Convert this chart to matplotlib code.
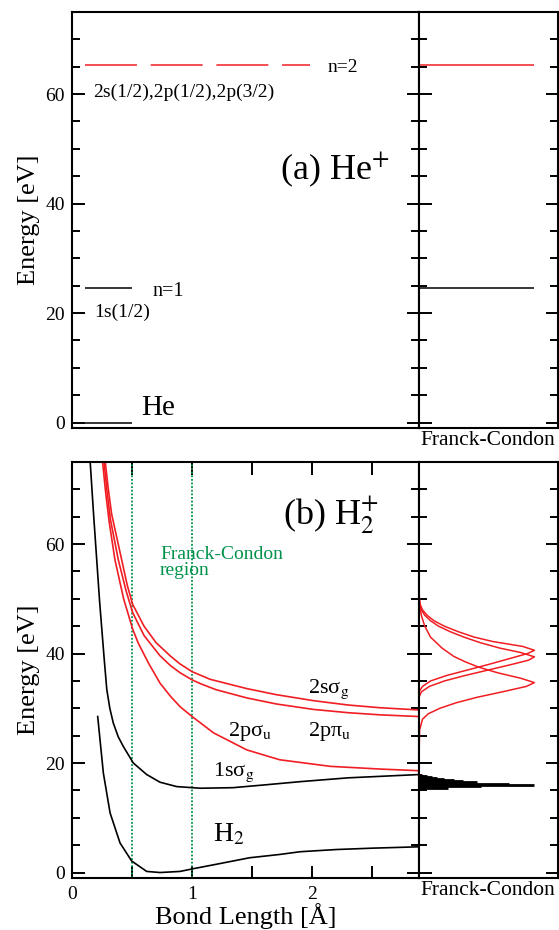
import numpy as np
import matplotlib
matplotlib.use("Agg")
import matplotlib.pyplot as plt
from matplotlib.ticker import MultipleLocator

plt.rcParams["font.family"] = ["Liberation Serif", "DejaVu Serif"]
plt.rcParams["mathtext.fontset"] = "stix"

# ---- (a) He+ levels [eV] ----
he_levels = {"He": 0.0, "n=1": 24.6, "n=2": 65.4}

# ---- (b) H2 / H2+ potential curves: bond length [A], energy [eV] ----
r_h2 = [0.214, 0.261, 0.317, 0.40, 0.497, 0.622, 0.733, 0.90, 1.01, 1.2, 1.48, 1.73, 1.9, 2.2, 2.5, 2.89]
e_h2 = [28.5, 18.2, 10.9, 5.4, 2.1, 0.2, 0.0, 0.2, 0.7, 1.5, 2.7, 3.3, 3.8, 4.2, 4.45, 4.7]

r_1sg = [0.150, 0.178, 0.206, 0.230, 0.250, 0.270, 0.290, 0.315, 0.344, 0.385, 0.428, 0.511,
         0.622, 0.733, 0.872, 1.07, 1.34, 1.6, 1.9, 2.3, 2.89]
e_1sg = [75.5, 66.0, 57.1, 49.5, 44.0, 38.5, 33.4, 30.0, 27.3, 24.8, 23.0, 20.0,
         17.9, 16.5, 15.7, 15.4, 15.5, 16.0, 16.6, 17.3, 17.9]

r_2pu = [0.250, 0.280, 0.310, 0.358, 0.43, 0.505, 0.55, 0.636, 0.733, 0.82, 0.90, 1.0,
         1.18, 1.456, 1.73, 2.15, 2.57, 2.89]
e_2pu = [76.0, 69.5, 64.0, 57.1, 50.0, 44.5, 42.0, 38.3, 34.6, 32.2, 30.3, 28.5,
         25.5, 22.4, 20.6, 19.4, 18.9, 18.6]

r_2ppi = [0.262, 0.29, 0.32, 0.386, 0.45, 0.505, 0.60, 0.733, 0.82, 0.90, 1.0, 1.07,
          1.2, 1.456, 1.7, 2.01, 2.3, 2.57, 2.89]
e_2ppi = [76.0, 70.0, 64.5, 57.1, 51.5, 47.5, 43.3, 39.6, 37.8, 36.5, 35.2, 34.5,
          33.4, 31.9, 30.8, 29.8, 29.2, 28.8, 28.5]

r_2sg = [0.272, 0.30, 0.33, 0.414, 0.46, 0.505, 0.60, 0.70, 0.817, 0.90, 1.0, 1.15,
         1.456, 1.7, 2.01, 2.3, 2.57, 2.89]
e_2sg = [76.0, 70.5, 65.5, 57.1, 52.5, 49.0, 45.0, 42.0, 39.6, 38.1, 36.7, 35.3,
         33.6, 32.5, 31.4, 30.6, 30.1, 29.7]

fc_region = [0.5, 1.0]

# ---- Franck-Condon distributions (energy [eV], relative intensity) ----
fc_2sg_e = [75, 52, 50, 49, 48, 47, 46, 45, 44, 43, 42.2, 41.3, 40.6, 40.0, 39.0, 38.0,
            37.0, 36.0, 35.0, 34.0, 33.0, 20]
fc_2sg_v = [0, 0, 0.003, 0.01, 0.03, 0.07, 0.13, 0.22, 0.34, 0.48, 0.64, 0.9, 1.0, 0.94,
            0.77, 0.6, 0.42, 0.24, 0.1, 0.03, 0, 0]

fc_2ppi_e = [75, 51, 49, 48, 47, 46, 45, 44, 43, 42, 41, 40.2, 39.4, 38.8, 38.0, 37.0,
             36.0, 35.0, 34.0, 33.0, 32.0, 20]
fc_2ppi_v = [0, 0, 0.005, 0.02, 0.05, 0.1, 0.17, 0.27, 0.39, 0.53, 0.7, 0.88, 1.0, 0.95,
             0.8, 0.6, 0.4, 0.22, 0.09, 0.02, 0, 0]

fc_2pu_e = [75, 52, 49, 47, 45, 43, 41, 39.5, 38.5, 37.5, 36.5, 35.5, 34.7, 34.0, 33.0,
            32.0, 31.0, 30.0, 29.0, 28.0, 26, 20]
fc_2pu_v = [0, 0, 0.005, 0.02, 0.05, 0.1, 0.2, 0.3, 0.4, 0.52, 0.68, 0.88, 1.0, 0.93,
            0.72, 0.5, 0.32, 0.18, 0.08, 0.03, 0.005, 0]

fc_1sg_e = [15.45, 15.72, 15.98, 16.23, 16.47, 16.69, 16.90, 17.09, 17.27, 17.43, 17.57, 17.70, 17.81, 17.90]
fc_1sg_v = [0.25, 0.54, 1.0, 0.78, 0.5, 0.38, 0.3, 0.22, 0.16, 0.11, 0.07, 0.045, 0.025, 0.01]

RED = "#f01e23"
GREEN = "#00914a"
W, H = 559, 930


def frame(ax, main=True):
    for s in ax.spines.values():
        s.set_linewidth(1.5)
    ax.set_ylim(-1, 75)
    ax.yaxis.set_major_locator(MultipleLocator(20))
    ax.yaxis.set_minor_locator(MultipleLocator(5))
    ax.tick_params(axis="y", which="both", direction="in", left=True, right=True,
                   width=1.4, labelsize=14, pad=5)
    ax.tick_params(axis="y", which="major", length=9)
    ax.tick_params(axis="y", which="minor", length=5.5)
    if not main:
        ax.tick_params(axis="y", labelleft=False)
        ax.set_xticks([])
        ax.set_xlim(0, 1.2)
        ax.set_xlabel("Franck-Condon", fontsize=15.5, labelpad=2)


fig = plt.figure(figsize=(W / 100, H / 100), dpi=100)
x0, x1, x2 = 72 / W, 419 / W, 557.5 / W

ax_a = fig.add_axes([x0, (H - 428) / H, x1 - x0, 416 / H])
ax_af = fig.add_axes([x1, (H - 428) / H, x2 - x1, 416 / H])
ax_b = fig.add_axes([x0, (H - 878) / H, x1 - x0, 416 / H])
ax_bf = fig.add_axes([x1, (H - 878) / H, x2 - x1, 416 / H])

# ---------- (a) He+ ----------
frame(ax_a)
ax_a.set_xlim(0, 2.89)
ax_a.set_xticks([])
ax_a.hlines(he_levels["He"], 0.11, 0.5, color="k", lw=1.1)
ax_a.hlines(he_levels["n=1"], 0.11, 0.5, color="k", lw=1.1)
ax_a.plot([0.11, 1.98], [he_levels["n=2"]] * 2, color=RED, lw=1.1, dashes=(34, 9))
ax_a.text(0.175, 59.4, "2s(1/2),2p(1/2),2p(3/2)", fontsize=14, va="baseline")
ax_a.text(2.125, 64.1, "n=2", fontsize=14, va="baseline")
ax_a.text(0.667, 23.2, "n=1", fontsize=14.5, va="baseline")
ax_a.text(0.183, 19.2, "1s(1/2)", fontsize=14, va="baseline")
ax_a.text(0.575, 1.3, "He", fontsize=21, va="baseline")
ax_a.text(1.733, 44.3, r"(a) He$^{+}$", fontsize=26, va="baseline")
ax_a.set_ylabel("Energy [eV]", fontsize=19, labelpad=4)

frame(ax_af, main=False)
ax_af.hlines(he_levels["n=2"], 0, 1.0, color=RED, lw=1.1)
ax_af.hlines(he_levels["n=1"], 0, 1.0, color="k", lw=1.1)

# ---------- (b) H2+ ----------
frame(ax_b)
ax_b.set_xlim(0, 2.89)
ax_b.xaxis.set_major_locator(MultipleLocator(1))
ax_b.xaxis.set_minor_locator(MultipleLocator(0.5))
ax_b.tick_params(axis="x", which="both", direction="in", top=True, bottom=True,
                 width=1.4, labelsize=14, pad=6)
ax_b.tick_params(axis="x", which="major", length=9)
ax_b.tick_params(axis="x", which="minor", length=9)

for xr in fc_region:
    ax_b.axvline(xr, color=GREEN, lw=1.3, ls=(0, (1, 1.0)))
ax_b.plot(r_h2, e_h2, color="k", lw=1.2)
ax_b.plot(r_1sg, e_1sg, color="k", lw=1.2)
ax_b.plot(r_2pu, e_2pu, color=RED, lw=1.2)
ax_b.plot(r_2ppi, e_2ppi, color=RED, lw=1.2)
ax_b.plot(r_2sg, e_2sg, color=RED, lw=1.2)

ax_b.text(0.733, 57.2, "Franck-Condon", color=GREEN, fontsize=14, va="baseline")
ax_b.text(0.733, 54.4, "region", color=GREEN, fontsize=14, va="baseline")
ax_b.text(1.758, 63.5, r"(b) H$_2^{+}$", fontsize=26, va="baseline")
ax_b.text(1.967, 32.8, "2sσ$_{\\rm g}$", fontsize=16, va="baseline")
ax_b.text(1.967, 24.9, "2pπ$_{\\rm u}$", fontsize=16, va="baseline")
ax_b.text(1.30, 25.0, "2pσ$_{\\rm u}$", fontsize=16, va="baseline")
ax_b.text(1.178, 17.6, "1sσ$_{\\rm g}$", fontsize=16, va="baseline")
ax_b.text(1.178, 5.7, r"H$_2$", fontsize=20, va="baseline")
ax_b.set_ylabel("Energy [eV]", fontsize=19, labelpad=4)
ax_b.set_xlabel("Bond Length [Å]", fontsize=19, labelpad=0)

frame(ax_bf, main=False)
ax_bf.plot(fc_2sg_v, fc_2sg_e, color=RED, lw=1.1)
ax_bf.plot(fc_2ppi_v, fc_2ppi_e, color=RED, lw=1.1)
ax_bf.plot(fc_2pu_v, fc_2pu_e, color=RED, lw=1.1)
ax_bf.hlines(fc_1sg_e, 0, fc_1sg_v, color="k", lw=2.0)

fig.savefig("out.png", dpi=100)
